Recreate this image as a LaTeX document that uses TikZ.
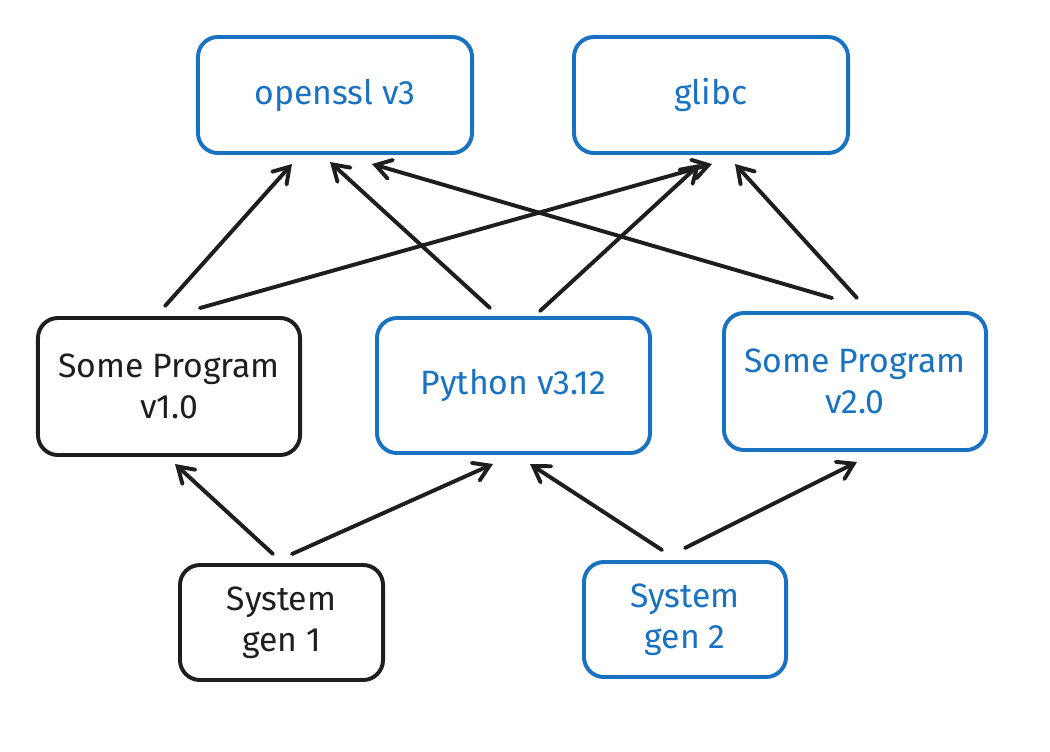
\documentclass[tikz,border=0pt]{standalone}
\usepackage{fontspec}
\setmainfont{Fira Sans}
\usetikzlibrary{arrows.meta, positioning, calc}
\definecolor{pkgblue}{HTML}{1971C2}
\definecolor{pkgink}{HTML}{1E1E1E}
\tikzset{
    pkg/.style={draw=pkgblue, text=pkgblue, rounded corners=0.5cm, line width=2.8pt, align=center, font=\fontsize{24}{29}\selectfont},
    oldpkg/.style={pkg, draw=pkgink, text=pkgink},
    dep/.style={draw=pkgink, line width=2.8pt, line cap=round, -{Straight Barb[length=0.38cm, width=0.48cm, line cap=round]}},
}
\begin{document}
\begin{tikzpicture}[x=0.025cm, y=-0.025cm]
    \useasboundingbox (0,0) rectangle (1050,751);

    \node[pkg, minimum width=6.85cm, minimum height=2.9cm] (ssl) at (335, 95) {openssl v3};
    \node[pkg, minimum width=6.85cm, minimum height=2.9cm] (libc) at (711, 95) {glibc};

    \node[oldpkg, minimum width=6.55cm, minimum height=3.425cm] (prog1) at (169, 386.5) {Some Program\\v1.0};
    \node[pkg, minimum width=6.825cm, minimum height=3.375cm] (py) at (513.5, 385.5) {Python v3.12};
    \node[pkg, minimum width=6.55cm, minimum height=3.425cm] (prog2) at (855, 381.5) {Some Program\\v2.0};

    \node[oldpkg, minimum width=5.075cm, minimum height=2.875cm] (gen1) at (281.5, 622.5) {System\\gen 1};
    \node[pkg, minimum width=5.05cm, minimum height=2.875cm] (gen2) at (685, 619.5) {System\\gen 2};

    % programs -> libraries
    \draw[dep] ($(prog1.north)+(-4,-10)$) -- ($(ssl.south)+(-43,9)$);
    \draw[dep] ($(prog1.north)+(31,-8)$) -- ($(libc.south)+(1,9)$);
    \draw[dep] ($(py.north)+(-23.5,-8)$) -- ($(ssl.south)+(-5,7)$);
    \draw[dep] ($(py.north)+(26.5,-5)$) -- ($(libc.south)+(-11,9)$);
    \draw[dep] ($(prog2.north)+(-23,-13)$) -- ($(ssl.south)+(37,9)$);
    \draw[dep] ($(prog2.north)+(2,-13)$) -- ($(libc.south)+(24,9)$);

    % systems -> programs
    \draw[dep] ($(gen1.north)+(-8.5,-9)$) -- ($(prog1.south)+(6,7)$);
    \draw[dep] ($(gen1.north)+(10.5,-9)$) -- ($(py.south)+(-20.5,9)$);
    \draw[dep] ($(gen2.north)+(-23,-10)$) -- ($(py.south)+(16.5,9)$);
    \draw[dep] ($(gen2.north)+(0,-12)$) -- ($(prog2.south)+(2,10)$);
\end{tikzpicture}
\end{document}
